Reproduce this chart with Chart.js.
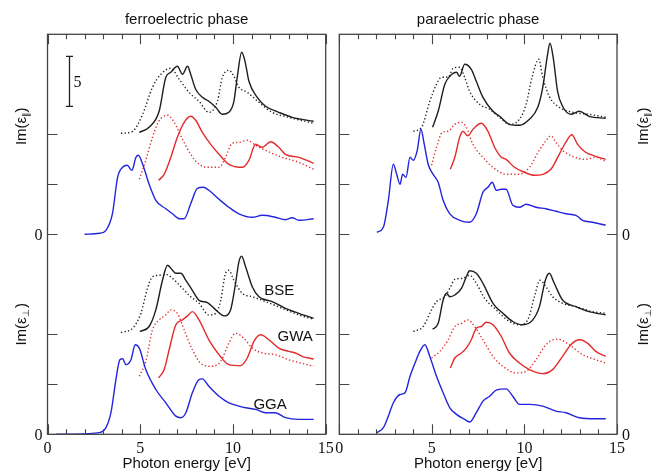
<!DOCTYPE html>
<html>
<head>
<meta charset="utf-8">
<script src="https://cdn.jsdelivr.net/npm/chart.js@4.4.1/dist/chart.umd.min.js"></script>
<style>
  html, body { margin: 0; padding: 0; background: #ffffff; }
  #wrap { position: relative; width: 652px; height: 474px; overflow: hidden; background:#fff; }
  canvas { position: absolute; left: 0; top: 0; }
</style>
</head>
<body>
<div id="wrap">
  <canvas id="ferro" width="652" height="474"></canvas>
  <canvas id="para" width="652" height="474"></canvas>
</div>
<script>
// ---------------- DATA (x: photon energy eV, y: Im(eps) + stacking offset) ----------------
const panelTitles = ['ferroelectric phase', 'paraelectric phase'];
const xAxisTitle = 'Photon energy [eV]';
const xMinorTicks = [0,1,2,3,4,5,6,7,8,9,10,11,12,13,14,15];
const xMajorTicks = [0,5,10,15];
const xTickLabels = ['0','5','10','15'];
const yTicks = [0,5,10,20,25,30];
const yZeroTicks = [0,20];
const yZeroLabels = ['0','0'];
const yRange = [0,40];
const xRange = [0,15];
const componentLabels = ['Im(ε', ')'];
const componentSubs = ['∥','⊥'];
const componentCenters = [30.8, 11.0];     // data-y centres of the side labels
const scaleBar = [1.17, 32.8, 37.8];       // x, y from, y to (5 units)
const scaleBarLabel = '5';
const curveLabels = ['BSE','GWA','GGA'];
const curveLabelX = [12.5, 13.35, 12.0];
const curveLabelY = [14.3, 9.7, 2.9];

// ferroelectric, parallel (offset upper half)
const ferroParGGA = [[2.0,20.0],[2.8,20.1],[3.15,20.4],[3.5,22.05],[3.78,25.7],[4.05,26.7],[4.3,26.9],[4.55,26.4],[4.77,27.7],[4.9,27.9],[5.13,27.0],[5.48,25.0],[5.84,23.4],[6.38,22.55],[6.74,22.05],[7.1,21.56],[7.37,21.56],[7.72,23.05],[8.08,24.6],[8.39,24.7],[8.7,24.4],[9.25,23.5],[9.78,22.7],[10.32,22.05],[11.04,21.7],[11.58,21.9],[12.29,21.7],[12.83,21.46],[13.19,21.66],[13.55,21.4],[14.35,21.56]];
const ferroParGWAdot = [[4.95,25.5],[5.3,27.4],[5.66,29.7],[6.0,31.3],[6.47,31.9],[6.83,31.2],[7.28,29.5],[7.72,28.0],[8.17,27.0],[8.7,26.7],[9.25,26.7],[9.6,27.7],[9.96,29.1],[10.32,29.2],[10.77,29.4],[11.22,28.9],[11.76,28.4],[12.65,27.7],[13.55,27.2],[14.35,26.5]];
const ferroParGWA = [[5.99,25.4],[6.29,26.0],[6.65,27.7],[7.0,29.7],[7.37,31.2],[7.72,31.8],[7.99,31.4],[8.35,30.2],[8.8,29.0],[9.25,28.0],[9.78,27.0],[10.5,26.7],[10.86,27.4],[11.22,29.0],[11.58,28.7],[12.03,29.25],[12.47,28.7],[12.83,28.0],[13.55,27.7],[14.35,27.1]];
const ferroParBSEdot = [[3.96,30.1],[4.59,30.3],[5.13,32.0],[5.66,34.7],[6.11,36.0],[6.65,36.6],[7.1,35.5],[7.63,34.2],[8.17,33.3],[8.7,32.2],[9.16,33.3],[9.43,35.7],[9.78,36.4],[10.05,35.8],[10.32,34.7],[10.77,34.2],[11.4,33.2],[12.11,32.2],[13.0,31.7],[14.35,31.1]];
const ferroParBSE = [[4.95,30.2],[5.48,30.7],[6.02,32.3],[6.38,35.7],[6.65,36.2],[7.0,36.8],[7.28,36.0],[7.55,36.8],[7.72,36.0],[7.99,34.5],[8.35,33.7],[8.7,33.3],[9.07,32.7],[9.43,32.0],[9.78,32.2],[10.05,33.3],[10.23,35.7],[10.47,38.2],[10.65,37.3],[10.86,35.3],[11.31,33.7],[11.76,32.8],[12.47,32.2],[13.19,31.7],[14.35,31.3]];

// ferroelectric, perpendicular (lower half)
const ferroPerpGGA = [[0.47,0.0],[2.8,0.17],[3.15,0.66],[3.42,2.16],[3.69,5.47],[3.9,7.46],[4.05,7.56],[4.23,6.97],[4.5,7.46],[4.73,8.96],[4.95,8.62],[5.3,6.47],[5.84,4.48],[6.38,3.15],[6.92,1.82],[7.19,1.66],[7.46,2.16],[7.81,4.15],[8.17,5.47],[8.35,5.54],[8.7,4.81],[9.25,3.81],[9.78,3.15],[10.32,2.82],[10.68,2.65],[11.22,2.49],[11.76,2.16],[12.29,2.16],[12.83,1.66],[13.55,1.49],[14.35,1.49]];
const ferroPerpGWAdot = [[4.95,5.8],[5.3,7.3],[5.66,10.45],[6.02,11.44],[6.38,11.94],[6.65,12.44],[7.0,12.1],[7.37,10.45],[7.81,8.46],[8.35,6.97],[8.89,6.8],[9.34,7.3],[9.78,9.12],[10.14,10.1],[10.59,9.6],[11.04,8.62],[11.58,8.13],[12.29,7.96],[13.0,7.46],[14.35,6.8]];
const ferroPerpGWA = [[5.99,5.64],[6.29,6.47],[6.56,8.46],[6.92,10.95],[7.28,11.44],[7.55,11.84],[7.81,12.27],[8.17,11.44],[8.7,9.45],[9.25,7.96],[9.78,6.97],[10.41,6.87],[10.77,7.63],[11.13,9.29],[11.49,9.95],[11.94,9.45],[12.47,8.62],[13.0,8.29],[13.37,8.13],[13.73,7.79],[14.35,7.53]];
const ferroPerpBSEdot = [[3.96,10.18],[4.59,10.61],[5.04,12.1],[5.39,14.6],[5.66,15.75],[6.02,15.9],[6.38,16.0],[6.74,15.6],[7.19,14.76],[7.72,13.76],[8.17,13.1],[8.7,11.94],[9.07,12.1],[9.34,13.4],[9.6,16.1],[9.78,16.4],[10.05,15.4],[10.5,14.1],[11.04,13.76],[11.76,13.27],[12.65,12.6],[13.55,11.94],[14.35,11.5]];
const ferroPerpBSE = [[4.98,10.28],[5.48,10.78],[5.84,12.44],[6.2,15.4],[6.47,16.9],[6.74,16.4],[6.92,16.1],[7.19,16.1],[7.46,15.4],[7.81,14.4],[8.17,13.4],[8.62,13.17],[9.07,12.44],[9.52,11.84],[9.87,12.44],[10.14,15.1],[10.32,17.25],[10.47,17.8],[10.68,16.75],[11.04,14.76],[11.4,13.76],[12.11,13.27],[12.83,12.6],[13.55,12.1],[14.35,11.6]];

// paraelectric, parallel (upper half)
const paraParGGA = [[2.03,20.2],[2.38,20.7],[2.65,23.4],[2.92,27.0],[3.1,26.0],[3.28,25.0],[3.42,26.0],[3.6,25.7],[3.82,27.7],[4.0,27.4],[4.21,28.4],[4.41,30.5],[4.59,29.0],[4.8,27.0],[5.07,26.0],[5.34,25.2],[5.61,23.4],[5.97,22.05],[6.5,21.4],[7.04,21.2],[7.4,22.05],[7.76,24.2],[8.03,24.7],[8.26,25.2],[8.48,24.4],[8.75,24.5],[9.01,24.5],[9.37,22.9],[9.73,22.7],[10.09,23.0],[10.63,22.7],[11.16,22.55],[11.7,22.3],[12.24,22.05],[12.78,21.9],[13.14,21.4],[13.67,21.2],[14.39,20.9]];
const paraParGWAdot = [[4.98,26.9],[5.25,28.7],[5.57,30.2],[5.88,30.3],[6.24,31.0],[6.6,31.2],[6.86,30.7],[7.22,29.0],[7.76,27.7],[8.3,26.7],[9.01,26.0],[9.73,26.0],[10.27,26.7],[10.8,28.4],[11.16,29.35],[11.43,29.85],[11.7,29.2],[12.06,28.4],[12.6,27.8],[13.3,27.5],[13.85,27.7],[14.39,27.3]];
const paraParGWA = [[6.0,26.5],[6.24,27.7],[6.5,29.7],[6.68,30.3],[6.95,29.85],[7.22,30.5],[7.67,31.1],[8.03,30.3],[8.39,28.7],[8.75,27.7],[9.01,27.5],[9.46,26.7],[10.0,26.2],[10.54,25.9],[10.99,26.0],[11.43,26.5],[11.88,28.0],[12.28,29.35],[12.56,29.95],[12.87,29.0],[13.3,28.2],[13.85,27.8],[14.39,27.5]];
const paraParBSEdot = [[4.0,30.3],[4.44,30.7],[4.89,33.3],[5.25,35.0],[5.52,35.7],[5.88,35.7],[6.15,36.6],[6.5,36.7],[6.77,35.7],[7.04,34.3],[7.58,33.0],[8.12,32.5],[8.66,31.7],[9.19,31.0],[9.73,31.5],[10.09,33.0],[10.41,35.7],[10.77,37.5],[10.99,35.7],[11.34,33.8],[11.88,32.7],[12.6,32.2],[13.49,32.0],[14.39,31.7]];
const paraParBSE = [[5.04,30.7],[5.34,32.3],[5.7,35.0],[5.97,35.8],[6.33,36.2],[6.5,35.8],[6.77,37.0],[7.13,36.5],[7.4,35.3],[7.76,33.7],[8.3,32.3],[8.66,31.8],[9.19,31.0],[9.73,30.9],[10.27,31.5],[10.72,32.7],[10.99,34.7],[11.25,38.0],[11.38,39.1],[11.56,37.6],[11.79,34.3],[12.06,32.8],[12.51,32.0],[12.96,32.3],[13.49,31.8],[14.39,31.6]];

// paraelectric, perpendicular (lower half)
const paraPerpGGA = [[2.03,0.17],[2.38,0.66],[2.65,1.82],[2.92,3.15],[3.28,3.98],[3.55,4.15],[3.82,5.8],[4.09,7.13],[4.35,8.29],[4.62,8.96],[4.89,7.79],[5.25,5.8],[5.61,4.15],[5.97,2.65],[6.33,1.99],[6.77,1.49],[7.04,1.23],[7.4,2.16],[7.76,3.32],[8.12,3.81],[8.48,4.41],[9.01,4.54],[9.37,3.81],[9.73,2.99],[10.27,2.99],[10.99,2.82],[11.7,2.32],[12.24,2.16],[12.96,1.66],[13.85,1.56],[14.39,1.56]];
const paraPerpGWAdot = [[4.98,7.63],[5.43,8.29],[5.88,9.45],[6.24,10.78],[6.6,11.1],[6.95,11.44],[7.31,10.78],[7.76,9.45],[8.3,7.79],[8.84,6.8],[9.55,6.14],[10.09,6.3],[10.63,7.46],[11.16,8.96],[11.79,9.52],[12.42,8.96],[13.14,7.96],[13.85,7.46],[14.39,7.13]];
const paraPerpGWA = [[6.0,6.63],[6.24,7.63],[6.6,8.13],[6.86,8.62],[7.13,9.45],[7.4,10.61],[7.67,10.78],[7.94,11.2],[8.3,10.95],[8.75,9.78],[9.19,8.13],[9.73,7.13],[10.27,6.47],[10.99,6.07],[11.52,6.47],[12.06,7.79],[12.51,8.96],[12.96,9.45],[13.4,9.12],[13.85,8.29],[14.39,7.79]];
const paraPerpBSEdot = [[4.0,10.28],[4.53,10.78],[4.98,12.44],[5.25,13.27],[5.7,13.76],[5.97,14.6],[6.24,15.5],[6.68,15.6],[7.04,15.9],[7.4,15.1],[7.85,13.6],[8.48,12.44],[9.19,11.28],[9.73,10.95],[10.18,11.44],[10.54,13.76],[10.84,15.4],[11.16,14.76],[11.52,13.76],[12.06,13.1],[12.78,12.77],[13.67,12.27],[14.39,12.1]];
const paraPerpBSE = [[5.04,10.5],[5.34,11.1],[5.61,13.43],[5.79,14.1],[5.97,13.76],[6.24,13.93],[6.6,14.6],[6.86,15.75],[7.04,16.35],[7.4,16.1],[7.76,15.1],[8.3,13.1],[8.84,12.1],[9.37,11.28],[9.91,10.95],[10.45,11.44],[10.81,12.77],[11.13,15.4],[11.34,16.1],[11.61,15.1],[12.06,13.43],[12.78,12.77],[13.49,12.27],[14.39,11.94]];

// ---------------- STYLE ----------------
const BLUE = '#2424dc';
const RED = '#e42a2a';
const BLACK = '#1e1e1e';
const FRAME = '#454545';
const serif = '"Liberation Serif", "Times New Roman", serif';
const sans = '"Liberation Sans", Arial, Helvetica, sans-serif';

function ds(points, color, dotted) {
  return {
    data: points.map(p => ({ x: p[0], y: p[1] })),
    borderColor: color,
    borderWidth: 1.4,
    borderDash: dotted ? [1.3, 2.3] : [],
    borderCapStyle: 'butt',
    pointRadius: 0,
    fill: false,
    cubicInterpolationMode: 'monotone',
  };
}

function drawComponentLabel(ctx, x, y, sub) {
  ctx.save();
  ctx.translate(x, y);
  ctx.rotate(-Math.PI / 2);
  ctx.fillStyle = '#111';
  ctx.textBaseline = 'alphabetic';
  ctx.textAlign = 'left';
  const f1 = '15px ' + sans, f2 = '9px ' + sans;
  ctx.font = f1; const w1 = ctx.measureText(componentLabels[0]).width;
  ctx.font = f2; const m2 = ctx.measureText(sub);
  const inkL = m2.actualBoundingBoxLeft || 0, inkR = m2.actualBoundingBoxRight || m2.width;
  const w2 = inkL + inkR + 1.2;
  ctx.font = f1; const w3 = ctx.measureText(componentLabels[1]).width;
  const total = w1 + w2 + w3;
  let cx = -total / 2;
  ctx.font = f1; ctx.fillText(componentLabels[0], cx, 0); cx += w1;
  ctx.font = f2; ctx.fillText(sub, cx + inkL + 0.3, 2.5); cx += w2;
  ctx.font = f1; ctx.fillText(componentLabels[1], cx, 0);
  ctx.restore();
}

const framePlugin = {
  id: 'frame',
  afterDraw(chart, args, opts) {
    const { ctx, chartArea: a, scales: { x, y } } = chart;
    ctx.save();
    ctx.strokeStyle = FRAME;
    ctx.lineWidth = 1.3;
    ctx.strokeRect(a.left, a.top, a.right - a.left, a.bottom - a.top);
    // x ticks (inward, top and bottom)
    ctx.beginPath();
    xMinorTicks.forEach(v => {
      const px = Math.round(x.getPixelForValue(v)) + 0.5;
      const len = xMajorTicks.includes(v) ? 10 : 5;
      ctx.moveTo(px, a.bottom); ctx.lineTo(px, a.bottom - len);
      ctx.moveTo(px, a.top); ctx.lineTo(px, a.top + len);
    });
    // y ticks (inward, both sides)
    yTicks.forEach(v => {
      const py = Math.round(y.getPixelForValue(v)) + 0.5;
      ctx.moveTo(a.left, py); ctx.lineTo(a.left + 10, py);
      ctx.moveTo(a.right, py); ctx.lineTo(a.right - 10, py);
    });
    ctx.lineWidth = 1.1;
    ctx.stroke();
    // x tick labels
    ctx.fillStyle = '#111';
    ctx.font = '16px ' + serif;
    ctx.textAlign = 'center';
    ctx.textBaseline = 'alphabetic';
    xMajorTicks.forEach((v, i) => ctx.fillText(xTickLabels[i], x.getPixelForValue(v), a.bottom + 19));
    // y zero labels
    ctx.textBaseline = 'middle';
    yZeroTicks.forEach((v, i) => {
      const py = y.getPixelForValue(v);
      if (opts.side === 'left') { ctx.textAlign = 'right'; ctx.fillText(yZeroLabels[i], a.left - 5, py + 1); }
      else { ctx.textAlign = 'left'; ctx.fillText(yZeroLabels[i], a.right + 5, py + 1); }
    });
    // title
    ctx.font = '15px ' + sans;
    ctx.textAlign = 'center';
    ctx.textBaseline = 'alphabetic';
    ctx.fillText(opts.title, (a.left + a.right) / 2, 24);
    // x axis title
    ctx.fillText(xAxisTitle, (a.left + a.right) / 2, 468);
    // component labels
    const lx = opts.side === 'left' ? 26 : 648;
    componentCenters.forEach((v, i) => drawComponentLabel(ctx, lx, y.getPixelForValue(v), componentSubs[i]));
    if (opts.side === 'left') {
      // scale bar
      const bx = Math.round(x.getPixelForValue(scaleBar[0])) + 0.5;
      const by0 = y.getPixelForValue(scaleBar[1]), by1 = y.getPixelForValue(scaleBar[2]);
      ctx.beginPath();
      ctx.strokeStyle = '#222';
      ctx.lineWidth = 1.3;
      ctx.moveTo(bx, by0); ctx.lineTo(bx, by1);
      ctx.moveTo(bx - 3.5, by0); ctx.lineTo(bx + 3.5, by0);
      ctx.moveTo(bx - 3.5, by1); ctx.lineTo(bx + 3.5, by1);
      ctx.stroke();
      ctx.font = '16px ' + serif;
      ctx.textAlign = 'left';
      ctx.textBaseline = 'middle';
      ctx.fillText(scaleBarLabel, bx + 4, (by0 + by1) / 2 + 1);
      // curve labels
      ctx.font = '15px ' + sans;
      ctx.textAlign = 'center';
      curveLabels.forEach((t, i) => ctx.fillText(t, x.getPixelForValue(curveLabelX[i]), y.getPixelForValue(curveLabelY[i])));
    }
    ctx.restore();
  }
};

function makeChart(id, sets, padding, side, title) {
  return new Chart(document.getElementById(id), {
    type: 'line',
    data: { datasets: sets },
    options: {
      responsive: false,
      animation: false,
      devicePixelRatio: 1,
      layout: { padding },
      plugins: { legend: { display: false }, tooltip: { enabled: false }, frame: { side, title } },
      scales: {
        x: { type: 'linear', min: xRange[0], max: xRange[1], display: false },
        y: { type: 'linear', min: yRange[0], max: yRange[1], display: false }
      }
    },
    plugins: [framePlugin]
  });
}

makeChart('ferro', [
  ds(ferroParGGA, BLUE, false), ds(ferroParGWAdot, RED, true), ds(ferroParGWA, RED, false),
  ds(ferroParBSEdot, BLACK, true), ds(ferroParBSE, BLACK, false),
  ds(ferroPerpGGA, BLUE, false), ds(ferroPerpGWAdot, RED, true), ds(ferroPerpGWA, RED, false),
  ds(ferroPerpBSEdot, BLACK, true), ds(ferroPerpBSE, BLACK, false)
], { left: 47.5, right: 652 - 325.7, top: 34.3, bottom: 474 - 434.3 }, 'left', panelTitles[0]);

makeChart('para', [
  ds(paraParGGA, BLUE, false), ds(paraParGWAdot, RED, true), ds(paraParGWA, RED, false),
  ds(paraParBSEdot, BLACK, true), ds(paraParBSE, BLACK, false),
  ds(paraPerpGGA, BLUE, false), ds(paraPerpGWAdot, RED, true), ds(paraPerpGWA, RED, false),
  ds(paraPerpBSEdot, BLACK, true), ds(paraPerpBSE, BLACK, false)
], { left: 339.3, right: 652 - 617, top: 34.3, bottom: 474 - 434.3 }, 'right', panelTitles[1]);
</script>
</body>
</html>
